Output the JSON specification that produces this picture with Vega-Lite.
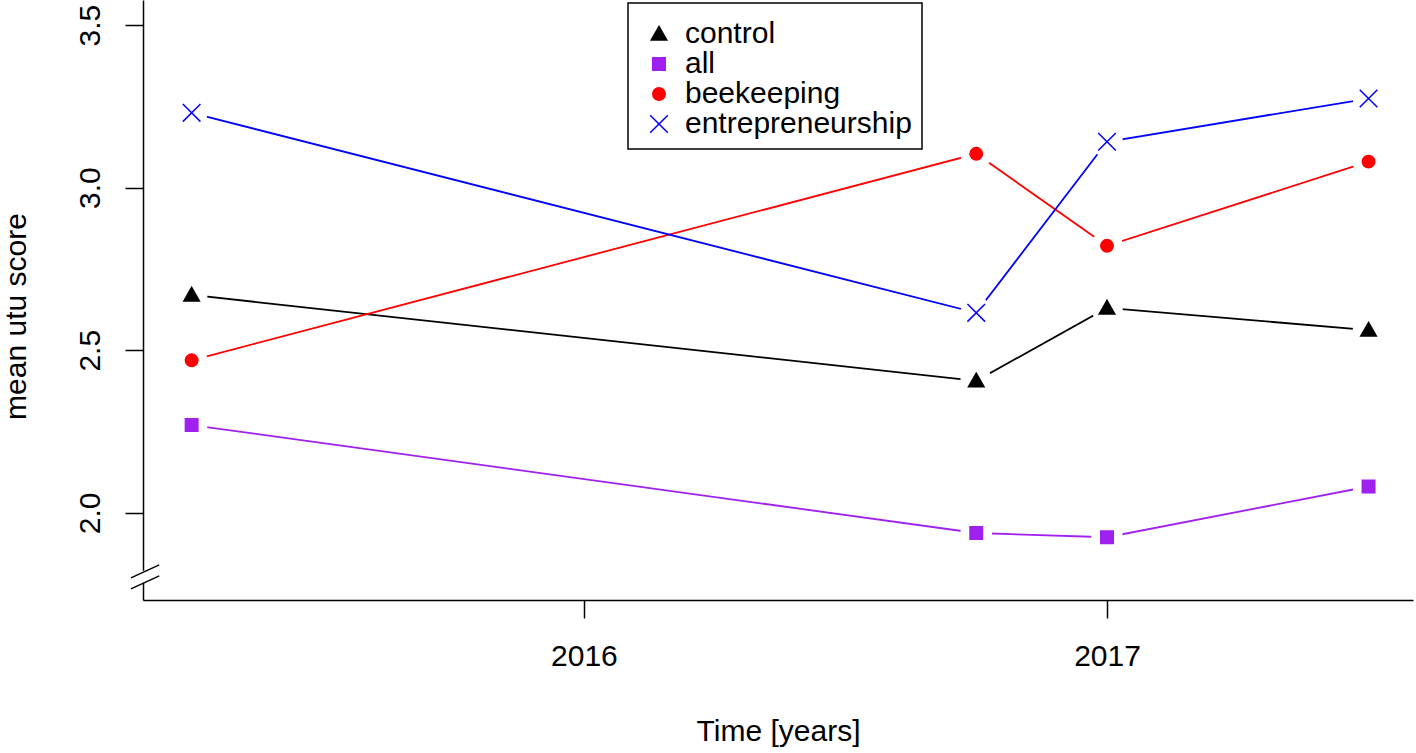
{
  "$schema": "https://vega.github.io/schema/vega-lite/v6.json",
  "width": 1270,
  "height": 600,
  "autosize": {"type": "none"},
  "padding": {"left": 143, "top": 0, "right": 3, "bottom": 153},
  "background": "white",
  "config": {
    "font": "Liberation Sans",
    "view": {"stroke": null},
    "axis": {
      "grid": false,
      "domainColor": "black",
      "domainWidth": 1.5,
      "tickColor": "black",
      "tickWidth": 1.5,
      "tickSize": 18,
      "labelColor": "black",
      "labelFontSize": 30,
      "labelFont": "Liberation Sans",
      "titleColor": "black",
      "titleFontSize": 30,
      "titleFont": "Liberation Sans",
      "titleFontWeight": "normal"
    },
    "legend": {
      "orient": "none",
      "legendX": 485,
      "legendY": 3,
      "strokeColor": "black",
      "strokeWidth": 1.5,
      "fillColor": "white",
      "padding": 10,
      "titleFontSize": 1,
      "titlePadding": 5,
      "labelFontSize": 30,
      "labelFont": "Liberation Sans",
      "labelColor": "black",
      "labelLimit": 1000,
      "labelOffset": 11,
      "symbolSize": 256,
      "symbolStrokeWidth": 1.5,
      "symbolOffset": 6,
      "rowPadding": 0
    }
  },
  "datasets": {
    "main": [
      {"series": "control", "year": 2015.25, "score": 2.670},
      {"series": "control", "year": 2016.75, "score": 2.406},
      {"series": "control", "year": 2017.0, "score": 2.630},
      {"series": "control", "year": 2017.5, "score": 2.562},
      {"series": "all", "year": 2015.25, "score": 2.270},
      {"series": "all", "year": 2016.75, "score": 1.938},
      {"series": "all", "year": 2017.0, "score": 1.925},
      {"series": "all", "year": 2017.5, "score": 2.081},
      {"series": "beekeeping", "year": 2015.25, "score": 2.469},
      {"series": "beekeeping", "year": 2016.75, "score": 3.104},
      {"series": "beekeeping", "year": 2017.0, "score": 2.821},
      {"series": "beekeeping", "year": 2017.5, "score": 3.080},
      {"series": "entrepreneurship", "year": 2015.25, "score": 3.230},
      {"series": "entrepreneurship", "year": 2016.75, "score": 2.615},
      {"series": "entrepreneurship", "year": 2017.0, "score": 3.141},
      {"series": "entrepreneurship", "year": 2017.5, "score": 3.274}
    ],
    "gap": [
      {"x": 2015.157, "y": 1.785, "y2": 1.822}
    ],
    "slash": [
      {"x": 2015.134, "x2": 2015.188, "y": 1.800, "y2": 1.840},
      {"x": 2015.134, "x2": 2015.188, "y": 1.766, "y2": 1.806}
    ]
  },
  "encoding": {
    "x": {
      "field": "year",
      "type": "quantitative",
      "scale": {"domain": [2015.157, 2017.585], "nice": false, "zero": false},
      "axis": {
        "values": [2016, 2017],
        "format": "d",
        "labelPadding": 23,
        "title": "Time [years]",
        "titleBaseline": "alphabetic",
        "titleY": 140
      }
    },
    "y": {
      "field": "score",
      "type": "quantitative",
      "scale": {"domain": [1.732, 3.577], "nice": false, "zero": false},
      "axis": {
        "values": [2.0, 2.5, 3.0, 3.5],
        "format": ".1f",
        "labelAngle": -90,
        "labelAlign": "center",
        "labelBaseline": "alphabetic",
        "labelPadding": 26,
        "title": "mean utu score",
        "titleAngle": -90,
        "titleAlign": "center",
        "titleBaseline": "alphabetic",
        "titleX": -118,
        "titleY": 316
      }
    }
  },
  "layer": [
    {
      "data": {"name": "main"},
      "mark": {"type": "line", "strokeWidth": 1.8},
      "encoding": {
        "color": {
          "field": "series",
          "type": "nominal",
          "scale": {"domain": ["all", "beekeeping", "control", "entrepreneurship"], "range": ["#A020F0", "#FF0000", "black", "#0000FF"]},
          "legend": null
        }
      }
    },
    {
      "data": {"name": "main"},
      "mark": {"type": "point", "shape": "circle", "filled": true, "fill": "white", "opacity": 1, "size": 1000, "strokeWidth": 0}
    },
    {
      "data": {"name": "main"},
      "mark": {"type": "point", "filled": true, "opacity": 1, "size": 256, "strokeWidth": 1.5},
      "encoding": {
        "fill": {
          "field": "series",
          "type": "nominal",
          "scale": {"domain": ["control", "all", "beekeeping", "entrepreneurship"], "range": ["black", "#A020F0", "#FF0000", "#0000FF"]},
          "legend": {"title": " "}
        },
        "stroke": {
          "field": "series",
          "type": "nominal",
          "scale": {"domain": ["control", "all", "beekeeping", "entrepreneurship"], "range": ["black", "#A020F0", "#FF0000", "#0000FF"]},
          "legend": {"title": " "}
        },
        "shape": {
          "field": "series",
          "type": "nominal",
          "scale": {
            "domain": ["control", "all", "beekeeping", "entrepreneurship"],
            "range": [
              "M0,-0.95L0.97,0.75L-0.97,0.75Z",
              "M-0.78,-0.78L0.78,-0.78L0.78,0.78L-0.78,0.78Z",
              "M-0.78,0A0.78,0.78,0,1,0,0.78,0A0.78,0.78,0,1,0,-0.78,0Z",
              "M-1.1,-1.1L1.1,1.1M-1.1,1.1L1.1,-1.1"
            ]
          },
          "legend": {"title": " "}
        }
      }
    },
    {
      "data": {"name": "gap"},
      "mark": {"type": "rule", "color": "white", "strokeWidth": 5},
      "encoding": {
        "x": {"field": "x", "type": "quantitative"},
        "y": {"field": "y", "type": "quantitative"},
        "y2": {"field": "y2"}
      }
    },
    {
      "data": {"name": "slash"},
      "mark": {"type": "rule", "color": "black", "strokeWidth": 1.5},
      "encoding": {
        "x": {"field": "x", "type": "quantitative"},
        "x2": {"field": "x2"},
        "y": {"field": "y", "type": "quantitative"},
        "y2": {"field": "y2"}
      }
    }
  ]
}
